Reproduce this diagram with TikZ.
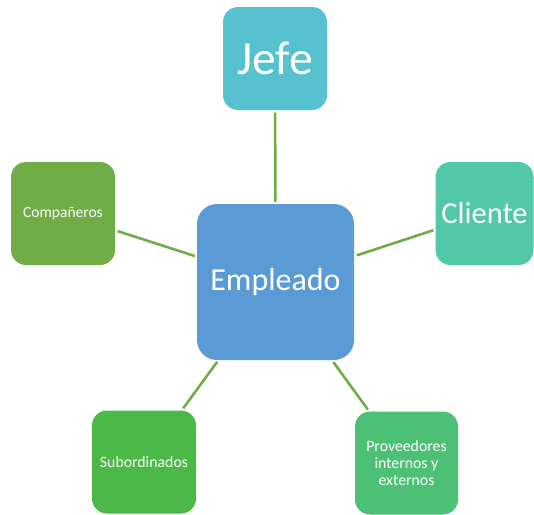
\documentclass[tikz,border=0pt]{standalone}
\usepackage{fontspec}
\setmainfont{Carlito}
\usepackage{tikz}

\definecolor{jefecol}{RGB}{86,193,207}
\definecolor{clientecol}{RGB}{82,200,168}
\definecolor{compcol}{RGB}{112,173,71}
\definecolor{subcol}{RGB}{76,184,72}
\definecolor{provcol}{RGB}{76,193,117}
\definecolor{empcol}{RGB}{91,155,213}
\definecolor{linkcol}{RGB}{112,173,71}

\tikzset{
  caja/.style={rounded corners=15pt, minimum width=104pt, minimum height=103pt,
    inner sep=0pt, text=white, align=center},
  enlace/.style={draw=linkcol, line width=2.6pt, shorten <=2.5pt, shorten >=2pt}
}

\begin{document}
\begin{tikzpicture}[x=1pt,y=-1pt]
                \useasboundingbox (0,0) rectangle (534,514);
                \node[caja, fill=empcol, rounded corners=20pt, minimum width=157pt, minimum height=156pt,
                      font=\fontsize{32}{38}\selectfont] (emp) at (275.5,282) {Empleado};
                \node[caja, fill=jefecol, font=\fontsize{47.5}{56}\selectfont] (jefe) at (275,58.5) {Jefe};
                \node[caja, fill=compcol, font=\fontsize{15.5}{17}\selectfont] (comp) at (63,213.5) {Compañeros};
                \node[caja, fill=clientecol, minimum width=98pt, font=\fontsize{30.5}{36}\selectfont] (cli) at (484.5,213.5) {Cliente};
                \node[caja, fill=subcol, font=\fontsize{15.8}{17}\selectfont] (sub) at (144,462) {Subordinados};
                \node[caja, fill=provcol, minimum width=103pt, font=\fontsize{15.8}{17}\selectfont] (prov) at (406.5,463) {Proveedores\\internos y\\externos};
                \draw[enlace] (jefe) -- (emp);
                \draw[enlace] (comp) -- (emp);
                \draw[enlace] (emp) -- (cli);
                \draw[enlace] (sub) -- (emp);
                \draw[enlace] (emp) -- (prov);
            \end{tikzpicture}
\end{document}
